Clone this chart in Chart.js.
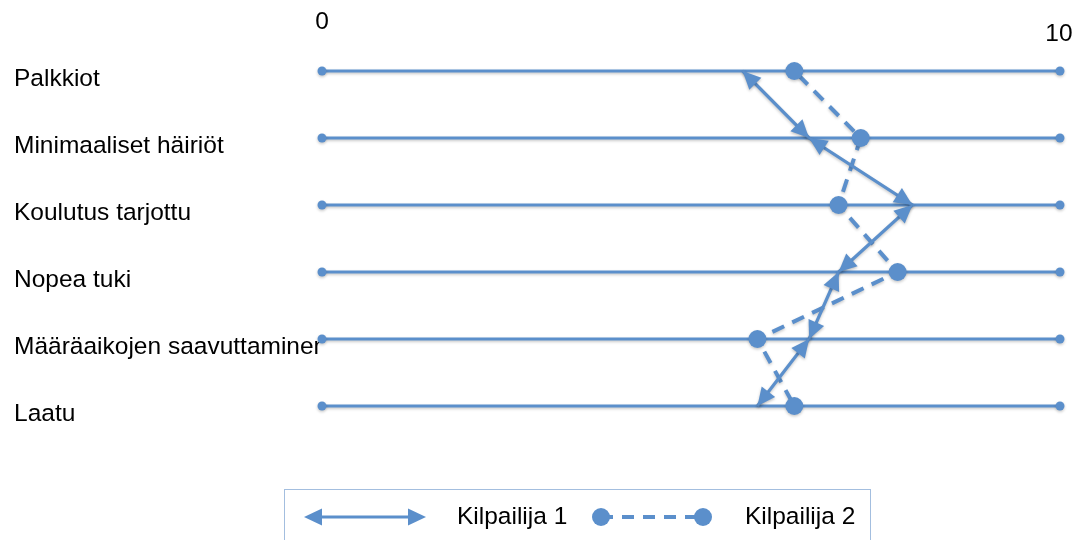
<!DOCTYPE html>
<html>
<head>
<meta charset="utf-8">
<script src="https://cdn.jsdelivr.net/npm/chart.js@4/dist/chart.umd.min.js"></script>
<style>
  html, body { margin: 0; padding: 0; background: #fff; }
  #wrap { width: 1082px; height: 540px; position: relative; }
</style>
</head>
<body>
<div id="wrap"><canvas id="c" width="1082" height="540"></canvas></div>
<script>
// Rated criteria (top to bottom) and scores on a 0–10 scale
const categories = [
  'Palkkiot',
  'Minimaaliset häiriöt',
  'Koulutus tarjottu',
  'Nopea tuki',
  'Määräaikojen saavuttaminen',
  'Laatu'
];
const kilpailija1 = [5.7, 6.6, 8.0, 7.0, 6.6, 5.9];
const kilpailija2 = [6.4, 7.3, 7.0, 7.8, 5.9, 6.4];
const seriesNames = ['Kilpailija 1', 'Kilpailija 2'];
const scaleMin = 0;
const scaleMax = 10;
const endTickLabels = ['0', '10'];

const BLUE = '#5B8FCB';
const FONT = '"Liberation Sans", Arial, sans-serif';
const FONT_SIZE = 24.5;

// One rail per criterion, spanning the full scale with dots at both ends
const railSets = categories.map(c => ({
  label: '_rail',
  data: [{ x: scaleMin, y: c }, { x: scaleMax, y: c }],
  borderColor: BLUE,
  backgroundColor: BLUE,
  borderWidth: 3.2,
  pointRadius: 4.5,
  pointBorderWidth: 0,
  clip: false,
  order: 3
}));

function arrowHead(ctx, tx, ty, fx, fy, len, half) {
  const a = Math.atan2(ty - fy, tx - fx);
  ctx.beginPath();
  ctx.moveTo(tx, ty);
  ctx.lineTo(tx - len * Math.cos(a) + half * Math.sin(a), ty - len * Math.sin(a) - half * Math.cos(a));
  ctx.lineTo(tx - len * Math.cos(a) - half * Math.sin(a), ty - len * Math.sin(a) + half * Math.cos(a));
  ctx.closePath();
  ctx.fill();
}

// Double-headed arrows on every segment of the first series
const arrowPlugin = {
  id: 'arrows',
  afterDatasetsDraw(chart) {
    const idx = chart.data.datasets.findIndex(d => d.label === seriesNames[0]);
    const pts = chart.getDatasetMeta(idx).data;
    const ctx = chart.ctx;
    ctx.save();
    ctx.fillStyle = BLUE;
    ctx.shadowColor = 'rgba(0,0,0,0.25)';
    ctx.shadowBlur = 3;
    ctx.shadowOffsetY = 1.5;
    for (let i = 0; i < pts.length - 1; i++) {
      const p = pts[i], q = pts[i + 1];
      arrowHead(ctx, p.x, p.y, q.x, q.y, 18, 8.5);
      arrowHead(ctx, q.x, q.y, p.x, p.y, 18, 8.5);
    }
    ctx.restore();
  }
};

// Soft shadow under all drawn marks
const shadowPlugin = {
  id: 'shadow',
  beforeDatasetsDraw(chart) {
    const ctx = chart.ctx;
    ctx.save();
    ctx.shadowColor = 'rgba(0,0,0,0.22)';
    ctx.shadowBlur = 3;
    ctx.shadowOffsetY = 1.5;
  },
  afterDatasetsDraw(chart) {
    chart.ctx.restore();
  }
};

// End labels of the scale and the boxed legend
const decorPlugin = {
  id: 'decor',
  afterDraw(chart) {
    const ctx = chart.ctx;
    const xs = chart.scales.x;
    ctx.save();
    ctx.fillStyle = '#000';
    ctx.font = FONT_SIZE + 'px ' + FONT;
    ctx.textAlign = 'center';
    ctx.textBaseline = 'middle';
    ctx.fillText(endTickLabels[0], xs.getPixelForValue(scaleMin), 22);
    ctx.fillText(endTickLabels[1], xs.getPixelForValue(scaleMax) - 1, 34);

    // legend frame
    ctx.strokeStyle = '#A3BEDF';
    ctx.lineWidth = 1;
    ctx.strokeRect(284.5, 489.5, 586, 80);

    const ly = 517;
    // series 1 symbol: double arrow
    ctx.strokeStyle = BLUE;
    ctx.fillStyle = BLUE;
    ctx.lineWidth = 3.2;
    ctx.beginPath();
    ctx.moveTo(310, ly);
    ctx.lineTo(420, ly);
    ctx.stroke();
    arrowHead(ctx, 304, ly, 420, ly, 18, 8.5);
    arrowHead(ctx, 426, ly, 310, ly, 18, 8.5);

    // series 2 symbol: dashed line with round markers
    ctx.lineWidth = 4;
    ctx.setLineDash([12, 9]);
    ctx.beginPath();
    ctx.moveTo(601, ly);
    ctx.lineTo(703, ly);
    ctx.stroke();
    ctx.setLineDash([]);
    [601, 703].forEach(cx => {
      ctx.beginPath();
      ctx.arc(cx, ly, 9, 0, Math.PI * 2);
      ctx.fill();
    });

    ctx.fillStyle = '#000';
    ctx.font = FONT_SIZE + 'px ' + FONT;
    ctx.textAlign = 'left';
    ctx.fillText(seriesNames[0], 457, ly);
    ctx.fillText(seriesNames[1], 745, ly);
    ctx.restore();
  }
};

new Chart(document.getElementById('c'), {
  type: 'line',
  data: {
    labels: categories,
    datasets: [
      {
        label: seriesNames[0],
        data: kilpailija1,
        borderColor: BLUE,
        backgroundColor: BLUE,
        borderWidth: 3.2,
        pointRadius: 0,
        tension: 0,
        clip: false,
        order: 1
      },
      {
        label: seriesNames[1],
        data: kilpailija2,
        borderColor: BLUE,
        backgroundColor: BLUE,
        borderWidth: 4,
        borderDash: [13, 9],
        borderDashOffset: -6,
        pointRadius: 9,
        pointBorderWidth: 0,
        tension: 0,
        clip: false,
        order: 2
      },
      ...railSets
    ]
  },
  options: {
    indexAxis: 'y',
    responsive: false,
    animation: false,
    layout: { padding: { left: 14, right: 22, top: 71, bottom: 134 } },
    plugins: {
      legend: { display: false },
      tooltip: { enabled: false }
    },
    scales: {
      x: {
        type: 'linear',
        min: scaleMin,
        max: scaleMax,
        display: false
      },
      y: {
        type: 'category',
        offset: false,
        grid: { display: false },
        border: { display: false },
        afterFit(scale) { scale.width = 308; },
        ticks: {
          crossAlign: 'far',
          padding: 0,
          labelOffset: 8,
          color: '#000',
          font: { family: FONT, size: FONT_SIZE }
        }
      }
    }
  },
  plugins: [shadowPlugin, arrowPlugin, decorPlugin]
});
</script>
</body>
</html>
